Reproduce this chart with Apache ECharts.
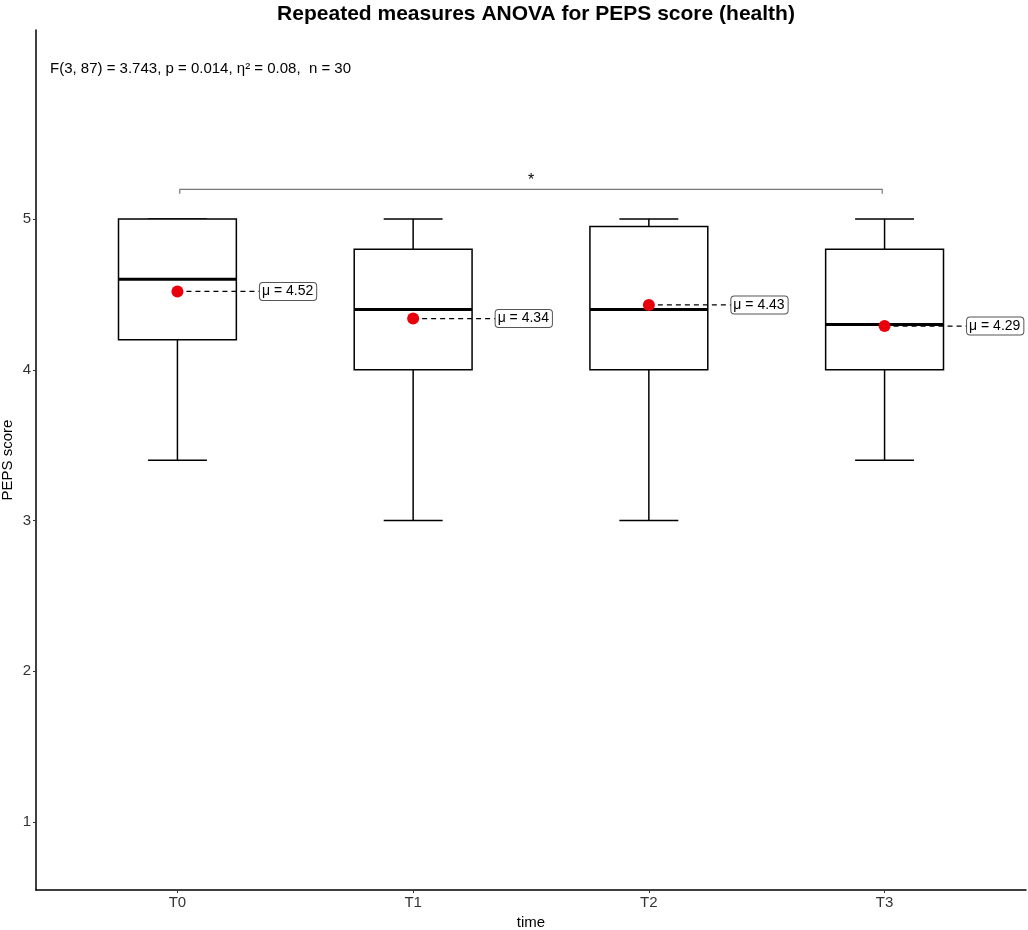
<!DOCTYPE html>
<html>
<head>
<meta charset="utf-8">
<script src="https://cdn.jsdelivr.net/npm/echarts@6/dist/echarts.min.js"></script>
<style>
  html, body { margin: 0; padding: 0; background: #fff; }
  #chart { width: 1028px; height: 930px; }
</style>
</head>
<body>
<div id="chart"></div>
<script>
// values
let categories = ["T0", "T1", "T2", "T3"];
let whiskerLow = [3.4, 3.0, 3.0, 3.4];
let q1 = [4.2, 4.0, 4.0, 4.0];
let median = [4.6, 4.4, 4.4, 4.3];
let q3 = [5.0, 4.8, 4.95, 4.8];
let whiskerHigh = [5.0, 5.0, 5.0, 5.0];
let means = [4.52, 4.34, 4.43, 4.29];
let yTicks = [1, 2, 3, 4, 5];
// significance bracket T0 vs T3
let bracket = { from: 1, to: 4, y: 5.197, drop: 5.168, label: "*" };
let statsText = "F(3, 87) = 3.743, p = 0.014, \u03b7\u00b2 = 0.08,  n = 30";

let font = "'Liberation Sans', Arial, sans-serif";
let chart = echarts.init(document.getElementById("chart"));

let boxData = categories.map(function (c, i) {
  return [i + 1, whiskerLow[i], q1[i], median[i], q3[i], whiskerHigh[i]];
});
let meanData = means.map(function (m, i) {
  return [i + 1, m];
});

let renderBox = function (params, api) {
  let x = api.value(0);
  let lo = api.coord([x, api.value(1)]);
  let b1 = api.coord([x - 0.25, api.value(2)]);
  let b3 = api.coord([x + 0.25, api.value(4)]);
  let md1 = api.coord([x - 0.25, api.value(3)]);
  let md2 = api.coord([x + 0.25, api.value(3)]);
  let hi = api.coord([x, api.value(5)]);
  let c1 = api.coord([x - 0.125, api.value(1)]);
  let c2 = api.coord([x + 0.125, api.value(1)]);
  let c3 = api.coord([x - 0.125, api.value(5)]);
  let c4 = api.coord([x + 0.125, api.value(5)]);
  let line = { stroke: "#000", lineWidth: 1.5 };
  return {
    type: "group",
    children: [
      { type: "line", shape: { x1: lo[0], y1: lo[1], x2: lo[0], y2: b1[1] }, style: line },
      { type: "line", shape: { x1: hi[0], y1: b3[1], x2: hi[0], y2: hi[1] }, style: line },
      { type: "line", shape: { x1: c1[0], y1: c1[1], x2: c2[0], y2: c2[1] }, style: line },
      { type: "line", shape: { x1: c3[0], y1: c3[1], x2: c4[0], y2: c4[1] }, style: line },
      {
        type: "rect",
        shape: { x: b1[0], y: b3[1], width: b3[0] - b1[0], height: b1[1] - b3[1] },
        style: { fill: "#fff", stroke: "#000", lineWidth: 1.5 }
      },
      { type: "line", shape: { x1: md1[0], y1: md1[1], x2: md2[0], y2: md2[1] }, style: { stroke: "#000", lineWidth: 3 } }
    ]
  };
};

let renderMeanLabel = function (params, api) {
  let x = api.value(0);
  let m = api.value(1);
  let p = api.coord([x, m]);
  let e = api.coord([x + 0.35, m]);
  return {
    type: "group",
    children: [
      {
        type: "line",
        shape: { x1: p[0], y1: p[1], x2: e[0], y2: e[1] },
        style: { stroke: "#000", lineWidth: 1.3, lineDash: [5, 4] }
      },
      {
        type: "text",
        x: e[0],
        y: e[1],
        style: {
          text: "\u03bc = " + m.toFixed(2),
          font: "14px " + font,
          fill: "#000",
          align: "left",
          verticalAlign: "middle",
          backgroundColor: "#fff",
          borderColor: "#555",
          borderWidth: 1,
          borderRadius: 3,
          padding: [2, 3, 1, 2]
        }
      }
    ]
  };
};

let renderBracket = function (params, api) {
  let a = api.coord([bracket.from + 0.01, bracket.drop]);
  let b = api.coord([bracket.from + 0.01, bracket.y]);
  let c = api.coord([bracket.to - 0.01, bracket.y]);
  let d = api.coord([bracket.to - 0.01, bracket.drop]);
  return {
    type: "group",
    children: [
      {
        type: "polyline",
        shape: { points: [a, b, c, d] },
        style: { stroke: "#777", lineWidth: 1.2, fill: null }
      },
      {
        type: "text",
        x: (b[0] + c[0]) / 2,
        y: b[1] - 1,
        style: { text: bracket.label, font: "16px " + font, fill: "#000", align: "center", verticalAlign: "bottom" }
      }
    ]
  };
};

let option = {
  animation: false,
  backgroundColor: "#fff",
  title: {
    text: "Repeated measures ANOVA for PEPS score (health)",
    left: 531,
    textAlign: "center",
    top: -1,
    textStyle: { fontFamily: font, fontSize: 21, fontWeight: "bold", color: "#000" }
  },
  graphic: [
    {
      type: "text",
      left: 50,
      top: 61,
      style: { text: statsText, font: "15px " + font, fill: "#000" }
    }
  ],
  grid: { left: 36, right: 2, top: 30, bottom: 40, containLabel: false, outerBoundsMode: "none" },
  xAxis: {
    type: "value",
    min: 0.4,
    max: 4.6,
    name: "time",
    nameLocation: "middle",
    nameGap: 25,
    nameMoveOverlap: false,
    nameTextStyle: { fontFamily: font, fontSize: 15, color: "#000" },
    axisLine: { show: true, onZero: false, lineStyle: { color: "#000", width: 1.5 } },
    axisTick: { show: true, customValues: [1, 2, 3, 4], length: 3, lineStyle: { color: "#333" } },
    axisLabel: {
      customValues: [1, 2, 3, 4],
      formatter: function (v) { return categories[Math.round(v) - 1]; },
      fontFamily: font,
      fontSize: 15,
      color: "#333",
      margin: 5
    },
    splitLine: { show: false }
  },
  yAxis: {
    type: "value",
    min: 0.549,
    max: 6.254,
    name: "PEPS score",
    nameLocation: "middle",
    nameGap: 21,
    nameRotate: 90,
    nameMoveOverlap: false,
    nameTextStyle: { fontFamily: font, fontSize: 15, color: "#000" },
    axisLine: { show: true, onZero: false, lineStyle: { color: "#000", width: 1.5 } },
    axisTick: { show: true, customValues: yTicks, length: 3, lineStyle: { color: "#333" } },
    axisLabel: { customValues: yTicks, fontFamily: font, fontSize: 15, color: "#333", margin: 5 },
    splitLine: { show: false }
  },
  series: [
    {
      type: "custom",
      renderItem: renderBox,
      data: boxData,
      encode: { x: 0, y: [1, 2, 3, 4, 5] },
      z: 2
    },
    {
      type: "custom",
      renderItem: renderMeanLabel,
      data: meanData,
      encode: { x: 0, y: 1 },
      z: 3
    },
    {
      type: "scatter",
      data: meanData,
      symbol: "circle",
      symbolSize: 12,
      itemStyle: { color: "#e8000b", opacity: 1 },
      z: 4
    },
    {
      type: "custom",
      renderItem: renderBracket,
      data: [[bracket.from, bracket.y]],
      encode: { x: 0, y: 1 },
      z: 2
    }
  ]
};

chart.setOption(option);
</script>
</body>
</html>
